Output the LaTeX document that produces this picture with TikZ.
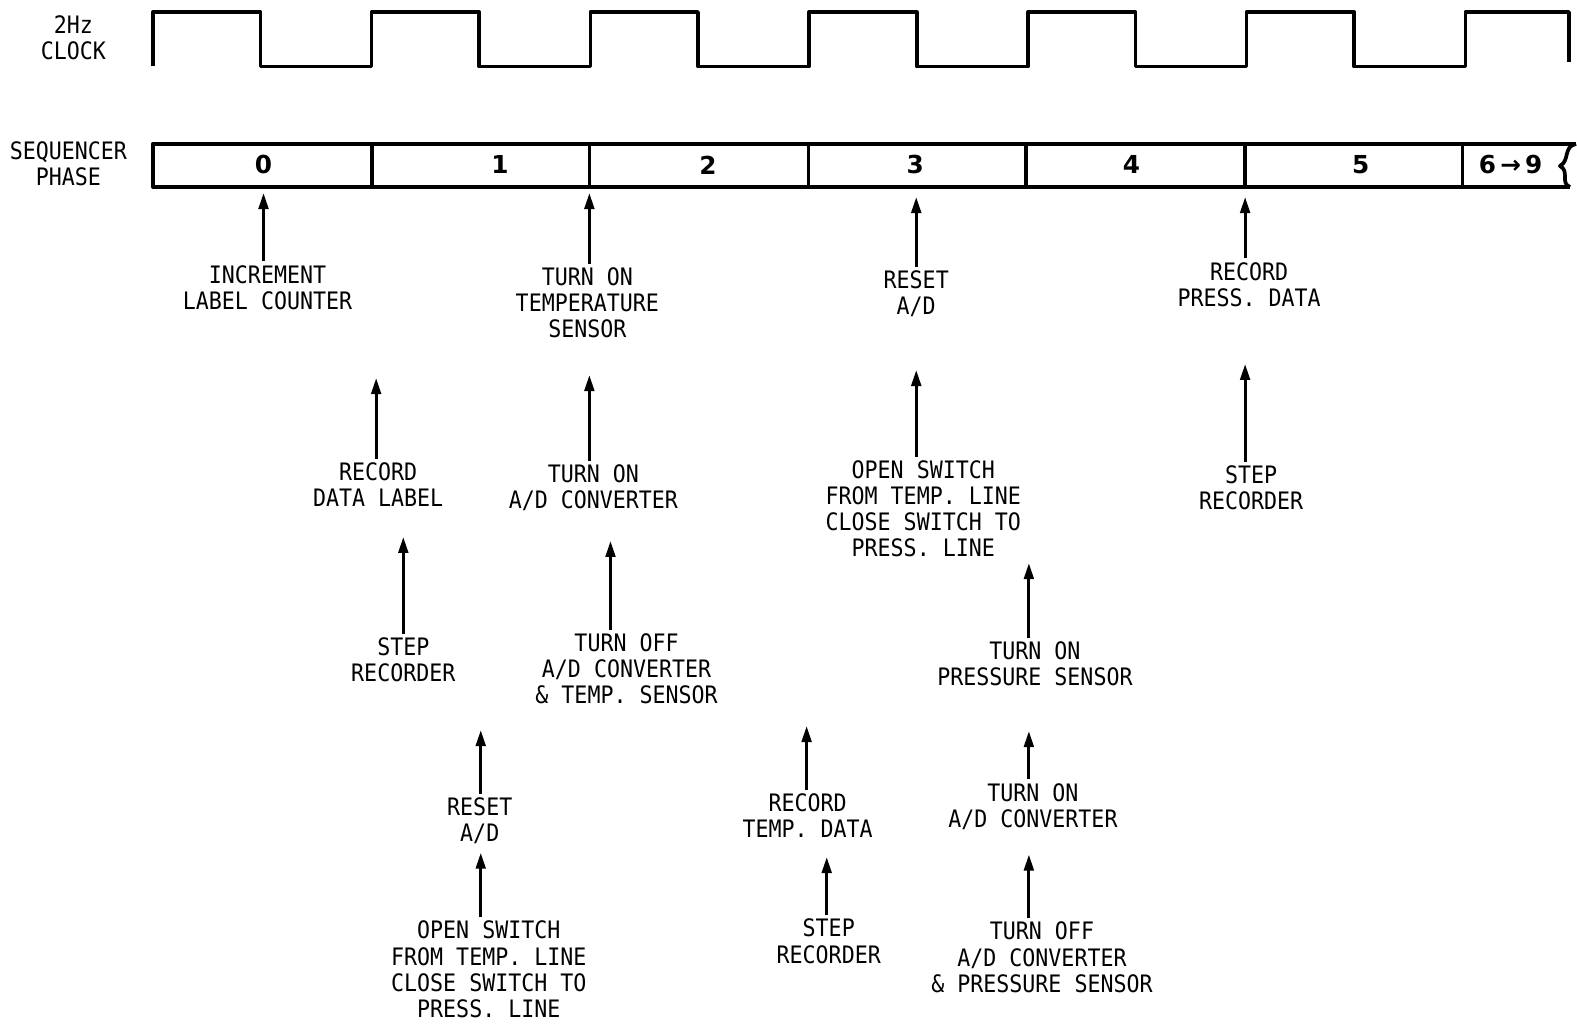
\documentclass[tikz,border=0pt]{standalone}
\usepackage{fontspec}
\setmonofont[FakeStretch=0.9]{DejaVu Sans Mono}
\newfontfamily\phasefont{DejaVu Sans}
\usetikzlibrary{arrows.meta}

\begin{document}
\begin{tikzpicture}[
    x=0.02cm, y=-0.02cm,
    every node/.style={font=\ttfamily\fontsize{13.6}{14.8}\selectfont},
    wave/.style={line width=2.1pt, line join=round},
    event/.style={align=center, anchor=north, inner sep=2pt},
    phasenum/.style={font=\phasefont\bfseries\fontsize{14}{15}\selectfont,
                     inner sep=1pt},
    trig/.style={-{Triangle[length=9pt,width=5.5pt]}, line width=1.6pt},
]

% ── Frame ───────────────────────────────────────────────────────
\useasboundingbox (0,0) rectangle (1568,1023);

% ── Row titles ──────────────────────────────────────────────────
\node[event] (clklbl) at (73,12) {2Hz\\CLOCK};
\node[event] (seqlbl) at (68,137) {SEQUENCER\\PHASE};

% ── 2Hz clock ───────────────────────────────────────────────────
\draw[wave] (152,66)
  \foreach \k in {0,...,5}{ -- ++(0,-54) -- ++(107,0) -- ++(0,54) -- ++(110.5,0) }
  -- ++(0,-54) -- ++(103,0) -- ++(0,50);

% ── Sequencer phase bar ─────────────────────────────────────────
\draw[wave] (1567,143) -- (152,143) -- (152,186) -- (1561,186);
\draw[wave] (1567,143) .. controls (1554,146) and (1561,160) .. (1551,165)
  .. controls (1561,170) and (1551,182) .. (1561,186);
\foreach \x in {370,586,804,1020,1238,1454}{
  \draw[wave] (\x,143) -- (\x,186);
}
\foreach \x/\n/\lbl in {262/0/0, 497/1/1, 704/2/2, 910/3/3, 1125/4/4, 1353/5/5,
                        1502/6/6$\,$→$\,$9}{
  \node[phasenum] (ph\n) at (\x,164) {\lbl};
}

% ── Event tips ──────────────────────────────────────────────────
\coordinate (tA1) at (262,192);
\coordinate (tA2) at (586,192);
\coordinate (tA3) at (911,196);
\coordinate (tA4) at (1238,196);
\coordinate (tB1) at (374,376);
\coordinate (tB2) at (586,373);
\coordinate (tB3) at (911,368);
\coordinate (tB4) at (1238,362);
\coordinate (tC1) at (401,534);
\coordinate (tC2) at (607,538);
\coordinate (tC3) at (1023,560);
\coordinate (tD1) at (478,726);
\coordinate (tD2) at (802,722);
\coordinate (tD3) at (1023,727);

% ── First row of events ─────────────────────────────────────────
\node[event] (incr) at (266,260) {INCREMENT\\LABEL COUNTER};
\node[event] (tempon) at (584,262) {TURN ON\\TEMPERATURE\\SENSOR};
\node[event] (resetA) at (911,265) {RESET\\A/D};
\node[event] (recpress) at (1242,257) {RECORD\\PRESS. DATA};

\draw[trig] (incr.north -| tA1) -- (tA1);
\draw[trig] (tempon.north -| tA2) -- (tA2);
\draw[trig] (resetA.north -| tA3) -- (tA3);
\draw[trig] (recpress.north -| tA4) -- (tA4);

% ── Second row ──────────────────────────────────────────────────
\node[event] (reclabel) at (376,456) {RECORD\\DATA LABEL};
\node[event] (adonA) at (590,458) {TURN ON\\A/D CONVERTER};
\node[event] (switchB) at (918,454) {OPEN SWITCH\\FROM TEMP. LINE\\CLOSE SWITCH TO\\PRESS. LINE};
\node[event] (stepC) at (1244,459) {STEP\\RECORDER};

\draw[trig] (reclabel.north -| tB1) -- (tB1);
\draw[trig] (adonA.north -| tB2) -- (tB2);
\draw[trig] (switchB.north -| tB3) -- (tB3);
\draw[trig] (stepC.north -| tB4) -- (tB4);

% ── Third row ───────────────────────────────────────────────────
\node[event] (stepA) at (401,630) {STEP\\RECORDER};
\node[event] (adoffA) at (623,626) {TURN OFF\\A/D CONVERTER\\\& TEMP. SENSOR};
\node[event] (presson) at (1029,634) {TURN ON\\PRESSURE SENSOR};

\draw[trig] (stepA.north -| tC1) -- (tC1);
\draw[trig] (adoffA.north -| tC2) -- (tC2);
\draw[trig] (presson.north -| tC3) -- (tC3);

% ── Fourth row ──────────────────────────────────────────────────
\node[event] (resetB) at (477,789) {RESET\\A/D};
\node[event] (rectemp) at (803,785) {RECORD\\TEMP. DATA};
\node[event] (adonB) at (1027,775) {TURN ON\\A/D CONVERTER};

\draw[trig] (resetB.north -| tD1) -- (tD1);
\draw[trig] (rectemp.north -| tD2) -- (tD2);
\draw[trig] (adonB.north -| tD3) -- (tD3);

% ── Bottom row ──────────────────────────────────────────────────
\node[event] (switchA) at (486,912) {OPEN SWITCH\\FROM TEMP. LINE\\CLOSE SWITCH TO\\PRESS. LINE};
\node[event] (stepB) at (824,910) {STEP\\RECORDER};
\node[event] (adoffB) at (1036,913) {TURN OFF\\A/D CONVERTER\\\& PRESSURE SENSOR};

\draw[trig, shorten >=3pt] (switchA.north -| tD1) -- (resetB.south -| tD1);
\draw[trig, shorten >=9pt] (stepB.north -| 822,0) -- (rectemp.south -| 822,0);
\draw[trig, shorten >=12pt] (adoffB.north -| tD3) -- (adonB.south -| tD3);

\end{tikzpicture}
\end{document}
